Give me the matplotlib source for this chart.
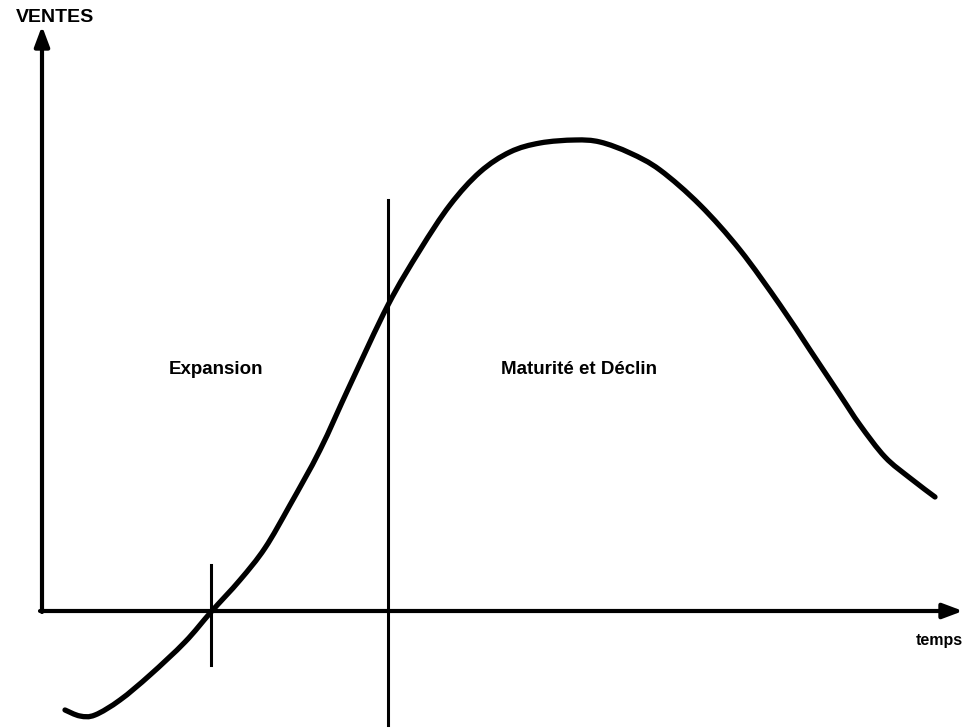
import matplotlib.pyplot as plt
from matplotlib.path import Path
from matplotlib.patches import PathPatch

# courbe de vie du produit, origine = croisement des axes
temps = [23, 38, 53, 78, 108, 143, 169, 198, 223, 248, 278, 308, 346, 378, 408,
         438, 468, 498, 533, 558, 588, 618, 658, 698, 738, 768, 798, 818, 843,
         868, 893]
ventes = [-99, -105, -104, -89, -64, -31, -1, 31, 63, 106, 161, 226, 306, 361,
          406, 439, 459, 468, 471, 469, 458, 441, 406, 361, 306, 261, 216, 186,
          154, 133, 114]

t_debut = 169   # fin de l'introduction
t_expansion = 346  # fin de l'expansion


def courbe_lisse(xs, ys):
    # passe par tous les points avec des Bezier cubiques (Catmull-Rom)
    pts = list(zip(xs, ys))
    verts = [pts[0]]
    codes = [Path.MOVETO]
    for i in range(len(pts) - 1):
        p0 = pts[max(i - 1, 0)]
        p1 = pts[i]
        p2 = pts[i + 1]
        p3 = pts[min(i + 2, len(pts) - 1)]
        c1 = (p1[0] + (p2[0] - p0[0]) / 6, p1[1] + (p2[1] - p0[1]) / 6)
        c2 = (p2[0] - (p3[0] - p1[0]) / 6, p2[1] - (p3[1] - p1[1]) / 6)
        verts += [c1, c2, p2]
        codes += [Path.CURVE4] * 3
    return Path(verts, codes)


fig = plt.figure(figsize=(9.8, 7.28), dpi=100)
ax = fig.add_axes([0, 0, 1, 1])
ax.set_xlim(-42, 938)
ax.set_ylim(-117, 611)
ax.axis('off')

# axes avec flèches
ax.annotate('', xy=(0, 585), xytext=(0, -1),
            arrowprops=dict(arrowstyle='-|>,head_length=1.2,head_width=0.45',
                            lw=3, color='black', shrinkA=0, shrinkB=0))
ax.annotate('', xy=(921, 0), xytext=(-2, 0),
            arrowprops=dict(arrowstyle='-|>,head_length=1.2,head_width=0.45',
                            lw=3, color='black', shrinkA=0, shrinkB=0))

ax.add_patch(PathPatch(courbe_lisse(temps, ventes), fill=False, edgecolor='black',
                       lw=3.8, capstyle='round', joinstyle='round'))

ax.plot([t_debut, t_debut], [-54, 46], color='black', lw=2.2)
ax.plot([t_expansion, t_expansion], [-114, 411], color='black', lw=2.2)

font = dict(family='Liberation Sans', weight='bold')
ax.text(13, 593, 'VENTES', ha='center', va='center', fontsize=14, **font)
ax.text(897, -29, 'temps', ha='center', va='center', fontsize=11.5, **font)
ax.text(174, 241, 'Expansion', ha='center', va='center', fontsize=13.5, **font)
ax.text(537, 241, 'Maturité et Déclin', ha='center', va='center', fontsize=13.5,
        **font)

fig.savefig('out.png', dpi=100)
